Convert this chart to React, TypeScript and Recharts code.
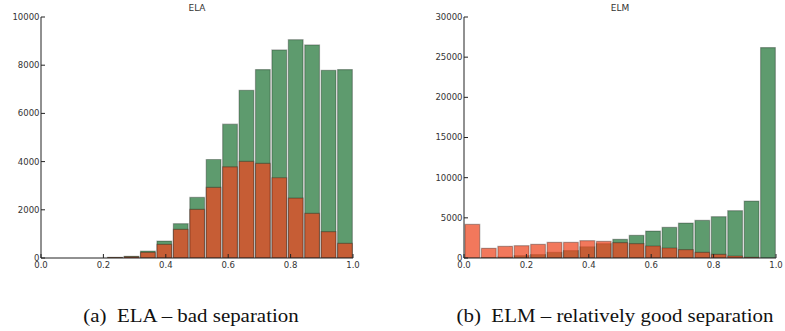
import React from 'react';
import { BarChart, Bar, XAxis, YAxis } from 'recharts';

// 19 equal-width histogram bins on [0, 1] — bin centres
const binCenters = [
  0.0263, 0.0789, 0.1316, 0.1842, 0.2368, 0.2895, 0.3421, 0.3947, 0.4474, 0.5,
  0.5526, 0.6053, 0.6579, 0.7105, 0.7632, 0.8158, 0.8684, 0.9211, 0.9737,
];

const elaGreen = [0, 0, 0, 0, 30, 70, 290, 704, 1423, 2514, 4088, 5552, 6961, 7818, 8633, 9061, 8840, 7790, 7818];
const elaOrange = [0, 0, 0, 0, 20, 50, 235, 566, 1188, 2017, 2928, 3785, 4006, 3923, 3329, 2486, 1851, 1091, 608];

const elmGreen = [0, 50, 100, 290, 430, 700, 930, 1400, 1780, 2325, 2820, 3357, 3813, 4350, 4683, 5140, 5885, 7087, 26190];
const elmOrange = [4186, 1200, 1450, 1530, 1700, 1950, 1950, 2155, 2072, 1906, 1782, 1492, 1243, 1036, 705, 456, 249, 83, 0];

const xTicks = [0, 0.2, 0.4, 0.6, 0.8, 1.0];
const elaYTicks = [0, 2000, 4000, 6000, 8000, 10000];
const elmYTicks = [0, 5000, 10000, 15000, 20000, 25000, 30000];

const elaTitle = 'ELA';
const elmTitle = 'ELM';
const captionA = '(a)\u2002ELA \u2013 bad separation';
const captionB = '(b)\u2002ELM \u2013 relatively good separation';

const FONT = "'DejaVu Sans', Verdana, sans-serif";
const TXT = '#333';
const AXIS = '#222';
const TL = 4;
const GREEN = '#5e9b6e';
const ORANGE = '#ed4620';
const PLOT_W = 312;
const BAR_W = PLOT_W / binCenters.length;

const BottomTick = (p: any) => {
  const ay = p.y - 4;
  return (
    <g>
      <line x1={p.x} x2={p.x} y1={ay} y2={ay - TL} stroke={AXIS} strokeWidth={1} />
      <text x={p.x} y={ay + 3.5} dy="0.71em" textAnchor="middle" fontSize={8.5} fill={TXT} fontFamily={FONT}>
        {Number(p.payload.value).toFixed(1)}
      </text>
    </g>
  );
};

const TopTick = (p: any) => {
  const ay = p.y + 2;
  return <line x1={p.x} x2={p.x} y1={ay} y2={ay + TL} stroke={AXIS} strokeWidth={1} />;
};

const LeftTick = (p: any) => {
  const ax = p.x + 2;
  return (
    <g>
      <line x1={ax} x2={ax + TL} y1={p.y} y2={p.y} stroke={AXIS} strokeWidth={1} />
      <text x={ax - 1.5} y={p.y} dy="0.35em" textAnchor="end" fontSize={8.5} fill={TXT} fontFamily={FONT}>
        {p.payload.value}
      </text>
    </g>
  );
};

const RightTick = (p: any) => {
  const ax = p.x - 2;
  return <line x1={ax} x2={ax - TL} y1={p.y} y2={p.y} stroke={AXIS} strokeWidth={1} />;
};

type PanelProps = {
  green: number[];
  orange: number[];
  yMax: number;
  yTicks: number[];
  width: number;
  yAxisWidth: number;
  marginRight: number;
};

const Panel = ({ green, orange, yMax, yTicks, width, yAxisWidth, marginRight }: PanelProps) => {
  const data = binCenters.map((x, i) => ({ x, g: green[i], o: orange[i] }));
  return (
    <BarChart
      width={width}
      height={280}
      data={data}
      margin={{ top: 17, right: marginRight, bottom: 2, left: 0 }}
      barCategoryGap={0}
      barGap={0}
    >
      <XAxis
        xAxisId="t"
        dataKey="x"
        type="number"
        domain={[0, 1]}
        allowDataOverflow
        ticks={xTicks}
        interval={0}
        height={20}
        tickSize={0}
        tickMargin={4}
        tickLine={false}
        axisLine={{ stroke: AXIS, strokeWidth: 1 }}
        tick={BottomTick}
      />
      <XAxis
        xAxisId="top"
        orientation="top"
        dataKey="x"
        type="number"
        domain={[0, 1]}
        allowDataOverflow
        ticks={xTicks}
        interval={0}
        height={0}
        tickSize={0}
        tickMargin={2}
        tickLine={false}
        axisLine={{ stroke: AXIS, strokeWidth: 1 }}
        tick={TopTick}
      />
      <YAxis
        type="number"
        domain={[0, yMax]}
        allowDataOverflow
        ticks={yTicks}
        interval={0}
        width={yAxisWidth}
        tickSize={0}
        tickMargin={2}
        tickLine={false}
        axisLine={{ stroke: AXIS, strokeWidth: 1 }}
        tick={LeftTick}
      />
      <YAxis
        yAxisId="r"
        orientation="right"
        type="number"
        domain={[0, yMax]}
        allowDataOverflow
        ticks={yTicks}
        interval={0}
        width={0}
        tickSize={0}
        tickMargin={2}
        tickLine={false}
        axisLine={{ stroke: AXIS, strokeWidth: 1 }}
        tick={RightTick}
      />
      <Bar
        xAxisId="t"
        dataKey="g"
        barSize={BAR_W}
        fill={GREEN}
        stroke="#000"
        strokeOpacity={0.28}
        strokeWidth={1.2}
        isAnimationActive={false}
      />
      <Bar
        xAxisId="top"
        yAxisId="r"
        dataKey="o"
        barSize={BAR_W}
        fill={ORANGE}
        fillOpacity={0.73}
        stroke="#000"
        strokeOpacity={0.28}
        strokeWidth={1.2}
        isAnimationActive={false}
      />
    </BarChart>
  );
};

const titleStyle = (cx: number): React.CSSProperties => ({
  position: 'absolute',
  left: cx - 50,
  width: 100,
  top: 3,
  textAlign: 'center',
  fontFamily: FONT,
  fontSize: 9,
  lineHeight: '10px',
  color: TXT,
});

const captionStyle = (cx: number): React.CSSProperties => ({
  position: 'absolute',
  left: cx - 200,
  width: 400,
  top: 307,
  textAlign: 'center',
  fontFamily: "'Liberation Serif', 'Times New Roman', serif",
  fontSize: 19,
  lineHeight: '18px',
  color: '#111',
  whiteSpace: 'pre',
  transform: 'scaleX(1.1)',
  transformOrigin: 'center',
});

export default function App() {
  return (
    <div style={{ position: 'absolute', left: 0, top: 0, width: 785, height: 331, background: '#fff', overflow: 'hidden' }}>
      <div style={{ position: 'absolute', left: 0, top: 0 }}>
        <Panel green={elaGreen} orange={elaOrange} yMax={10000} yTicks={elaYTicks} width={390} yAxisWidth={41} marginRight={37} />
      </div>
      <div style={{ position: 'absolute', left: 390, top: 0 }}>
        <Panel green={elmGreen} orange={elmOrange} yMax={30000} yTicks={elmYTicks} width={395} yAxisWidth={74} marginRight={9} />
      </div>
      <div style={titleStyle(197)}>{elaTitle}</div>
      <div style={titleStyle(620)}>{elmTitle}</div>
      <div style={captionStyle(191)}>{captionA}</div>
      <div style={captionStyle(615)}>{captionB}</div>
    </div>
  );
}
